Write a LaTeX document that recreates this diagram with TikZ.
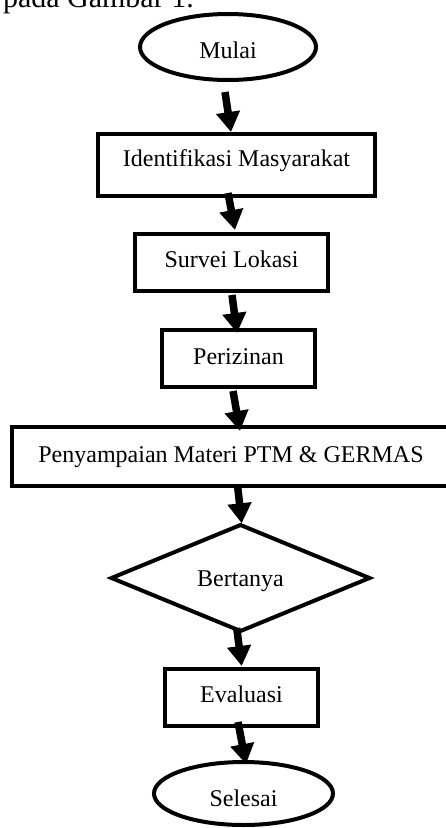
\documentclass[tikz,border=0pt]{standalone}
\usepackage{fontspec}
\setmainfont{Liberation Serif}
\usetikzlibrary{shapes.geometric,arrows.meta}
\begin{document}
\begin{tikzpicture}[x=1pt,y=-1pt,
  every node/.style={inner sep=0pt,outer sep=0pt,font=\fontsize{24}{28}\selectfont},
  shp/.style={draw=black,line width=4pt,text depth=0pt},
  procbox/.style={shp,rectangle},
  termbox/.style={shp,ellipse},
  decbox/.style={shp,diamond,aspect=2.5},
  flow/.style={line width=7.5pt,-{Triangle[width=23pt,length=20pt]}}
]
\useasboundingbox (0,0) rectangle (446,828);
\node[anchor=base west,font=\fontsize{30}{34}\selectfont] (cap) at (3,7.5) {pada Gambar 1.};
\node[termbox,minimum width=176pt,minimum height=66pt,text height=22pt] (mulai) at (228,47) {Mulai};
\node[procbox,minimum width=277pt,minimum height=62pt,text height=3.4pt] (ident) at (236.5,165) {Identifikasi Masyarakat};
\node[procbox,minimum width=193pt,minimum height=57pt,text height=10.4pt] (survei) at (231.5,262.5) {Survei Lokasi};
\node[procbox,minimum width=153pt,minimum height=57pt,text height=11.6pt] (periz) at (238.5,358.5) {Perizinan};
\node[procbox,minimum width=438pt,minimum height=59pt,text height=11.6pt] (peny) at (231,456.5) {Penyampaian Materi PTM \& GERMAS};
\node[decbox,minimum width=258pt,minimum height=106pt,text height=17.4pt] (tanya) at (240.5,578) {Bertanya};
\node[procbox,minimum width=153pt,minimum height=57pt,text height=9.6pt] (eval) at (241.5,697.5) {Evaluasi};
\node[termbox,minimum width=179pt,minimum height=63pt,text height=25pt] (selesai) at (243.5,793.5) {Selesai};

\draw[flow] ([xshift=-3pt,yshift=-12pt]mulai.south) -- ([xshift=-5.5pt,yshift=2pt]ident.north);
\draw[flow] ([xshift=-8.5pt,yshift=3pt]ident.south) -- ([xshift=3.5pt,yshift=4pt]survei.north);
\draw[flow] ([xshift=0.5pt,yshift=-4pt]survei.south) -- ([xshift=-1.5pt,yshift=-3pt]periz.north);
\draw[flow] ([xshift=-5.5pt,yshift=-4pt]periz.south) -- ([xshift=9pt,yshift=-4pt]peny.north);
\draw[flow] ([xshift=6.5pt,yshift=1pt]peny.south) -- ([xshift=1.2pt,yshift=1.7pt]tanya.north);
\draw[flow] ([xshift=-3.8pt,yshift=3pt]tanya.south) -- ([xshift=0.2pt,yshift=3pt]eval.north);
\draw[flow] ([xshift=-3.5pt,yshift=4pt]eval.south) -- ([xshift=2.5pt,yshift=-2pt]selesai.north);
\end{tikzpicture}
\end{document}
